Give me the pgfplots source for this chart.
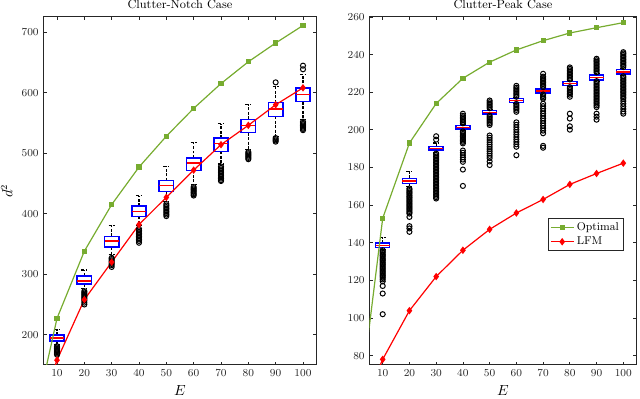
\documentclass[border=0pt]{standalone}
\usepackage{pgfplots}
\pgfplotsset{compat=1.18}
\usepgfplotslibrary{statistics}
\definecolor{mgreen}{rgb}{0.466,0.674,0.188}
\definecolor{axgray}{rgb}{0.15,0.15,0.15}

\pgfplotsset{
  panel/.style={
    scale only axis, height=261pt,
    xmin=5, xmax=105, xtick={10,20,...,100},
    tick align=inside, major tick length=2.6pt,
    axis line style={draw=axgray, line width=0.75pt},
    every tick/.style={axgray, line width=0.6pt},
    tick label style={font=\fontsize{8.5}{10}\selectfont, color=axgray},
    title style={font=\fontsize{9}{11}\selectfont, anchor=base, yshift=0.5pt},
    xlabel={$E$}, label style={font=\fontsize{10.5}{12}\selectfont},
    boxplot/draw direction=y,
  },
  bx/.style={
    mark=o, mark size=1.9pt, mark options={black, solid, line width=0.75pt},
    boxplot/box extend=5.2, boxplot/whisker extend=2.2,
    boxplot/every box/.style={draw=blue, line width=1.1pt},
    boxplot/every median/.style={draw=red, line width=1pt},
    boxplot/every whisker/.style={draw=black, line width=0.9pt, dash pattern=on 2.2pt off 1.2pt},
    forget plot,
  },
  opt/.style={mgreen, line width=0.9pt, mark=square*, mark size=1.5pt, mark options={solid, fill=mgreen}},
  lfm/.style={red, line width=0.9pt, mark=diamond*, mark size=2.1pt, mark options={solid, fill=red}},
}

\begin{document}
\begin{tikzpicture}
\path[use as bounding box] (-32.5pt,-25.5pt) rectangle (447.5pt,273.75pt);

% ---- left panel ----
\begin{axis}[panel, width=205pt,
  ymin=150, ymax=725, ytick={200,300,...,700},
  ylabel={$d^2$}, title={Clutter-Notch Case}]
\addplot[bx, boxplot prepared={draw position=10, lower whisker=184, lower quartile=189.6, median=194.5, upper quartile=199.5, upper whisker=209}]
  table[row sep=\\, y index=0] {y\\ 181\\ 179\\ 177\\ 175\\ 173\\ 171\\ 169\\ 167\\};
\addplot[bx, boxplot prepared={draw position=20, lower whisker=276, lower quartile=283.8, median=289, upper quartile=297, upper whisker=307}]
  table[row sep=\\, y index=0] {y\\ 272\\ 270\\ 268\\ 266\\ 264\\ 262\\ 260\\ 258\\ 256\\ 253\\ 250\\};
\addplot[bx, boxplot prepared={draw position=30, lower whisker=333, lower quartile=345, median=355, upper quartile=362.5, upper whisker=381}]
  table[row sep=\\, y index=0] {y\\ 327\\ 325\\ 323\\ 321\\ 319\\ 317\\ 315\\ 312\\};
\addplot[bx, boxplot prepared={draw position=40, lower whisker=380, lower quartile=395.5, median=404, upper quartile=412.5, upper whisker=430}]
  table[row sep=\\, y index=0] {y\\ 375\\ 372.5\\ 370\\ 367.5\\ 365\\ 362.5\\ 360\\ 357.5\\ 355\\ 352\\};
\addplot[bx, boxplot prepared={draw position=50, lower whisker=420, lower quartile=437, median=446.5, upper quartile=454.5, upper whisker=478}]
  table[row sep=\\, y index=0] {y\\ 416\\ 413.5\\ 411\\ 408.5\\ 406\\ 403.5\\ 401\\ 398.5\\ 396\\};
\addplot[bx, boxplot prepared={draw position=60, lower whisker=448, lower quartile=471.5, median=484, upper quartile=492, upper whisker=518}]
  table[row sep=\\, y index=0] {y\\ 444\\ 442\\ 440\\ 438\\ 436\\ 434\\ 432\\ 430\\};
\addplot[bx, boxplot prepared={draw position=70, lower whisker=482, lower quartile=503, median=515.5, upper quartile=525, upper whisker=549}]
  table[row sep=\\, y index=0] {y\\ 478\\ 475.5\\ 473\\ 470.5\\ 468\\ 465.5\\ 463\\ 460.5\\ 458\\ 455.5\\ 454\\};
\addplot[bx, boxplot prepared={draw position=80, lower whisker=506, lower quartile=534, median=546, upper quartile=556, upper whisker=581}]
  table[row sep=\\, y index=0] {y\\ 502\\ 500\\ 498\\ 496\\ 494\\ 492\\ 490\\};
\addplot[bx, boxplot prepared={draw position=90, lower whisker=527, lower quartile=561, median=573, upper quartile=583.5, upper whisker=610}]
  table[row sep=\\, y index=0] {y\\ 525\\ 523\\ 521\\ 519\\ 617\\};
\addplot[bx, boxplot prepared={draw position=100, lower whisker=556, lower quartile=585, median=597, upper quartile=608, upper whisker=630}]
  table[row sep=\\, y index=0] {y\\ 552\\ 550\\ 548\\ 546\\ 544\\ 542\\ 540\\ 538\\ 638.6\\ 644.6\\};

\addplot[opt] coordinates {(4,105) (10,227) (20,338) (30,415) (40,477) (50,528) (60,574) (70,615) (80,651) (90,682) (100,711)};
\addplot[lfm] coordinates {(4,80) (10,158) (20,258) (30,320) (40,382) (50,427) (60,472) (70,514) (80,546) (90,580) (100,608)};
\end{axis}

% ---- right panel ----
\begin{axis}[panel, at={(244.5pt,0)}, width=200.5pt,
  ymin=75, ymax=260, ytick={80,100,...,260},
  title={Clutter-Peak Case},
  legend style={at={(0.95,0.421)}, anchor=north east, draw=axgray, line width=0.6pt,
    font=\fontsize{8.5}{10}\selectfont, inner sep=1pt, row sep=-1pt},
  legend cell align=left]
\addplot[bx, boxplot prepared={draw position=10, lower whisker=136.5, lower quartile=137.6, median=138.7, upper quartile=139.8, upper whisker=142.8}]
  table[row sep=\\, y index=0] {y\\ 136\\ 135.3\\ 134.6\\ 133.9\\ 133.2\\ 132.5\\ 131.8\\ 131.1\\ 130.4\\ 129.7\\ 129\\ 128.3\\ 127.6\\ 126.9\\ 126.2\\ 125.5\\ 124.8\\ 124.1\\ 123.4\\ 122.7\\ 122\\ 121.3\\ 120.5\\ 119.5\\ 117\\ 113\\ 102\\};
\addplot[bx, boxplot prepared={draw position=20, lower whisker=170, lower quartile=171.6, median=172.8, upper quartile=174.2, upper whisker=178}]
  table[row sep=\\, y index=0] {y\\ 168.8\\ 168.1\\ 167.4\\ 166.7\\ 166\\ 165.3\\ 164.6\\ 163.9\\ 163.2\\ 162.5\\ 161.8\\ 161.1\\ 160.4\\ 159.7\\ 159\\ 158.3\\ 157.6\\ 156.9\\ 156.2\\ 155.5\\ 153.7\\ 148.8\\ 147.6\\ 145.8\\};
\addplot[bx, boxplot prepared={draw position=30, lower whisker=188, lower quartile=189.2, median=190.2, upper quartile=191.2, upper whisker=193}]
  table[row sep=\\, y index=0] {y\\ 194.8\\ 196.6\\ 187.4\\ 186.6\\ 185.8\\ 185\\ 184.2\\ 183.4\\ 182.6\\ 181.8\\ 181\\ 180.2\\ 179.4\\ 178.6\\ 177.8\\ 177\\ 176.2\\ 175.4\\ 174.6\\ 173.8\\ 173\\ 172.2\\ 171.4\\ 170.6\\ 169.8\\ 169\\ 168.2\\ 167.4\\ 166.6\\ 165.8\\ 165\\ 164.2\\ 163.5\\};
\addplot[bx, boxplot prepared={draw position=40, lower whisker=199.8, lower quartile=200.5, median=201.3, upper quartile=202.2, upper whisker=203}]
  table[row sep=\\, y index=0] {y\\ 203.5\\ 204.3\\ 205.1\\ 205.9\\ 206.7\\ 207.5\\ 208.6\\ 199.2\\ 198.5\\ 197.8\\ 197.1\\ 196.4\\ 195.7\\ 195\\ 194.3\\ 193.6\\ 192.8\\ 189\\ 187.8\\ 186.6\\ 185.4\\ 184.2\\ 183\\ 178.9\\ 170.2\\};
\addplot[bx, boxplot prepared={draw position=50, lower whisker=208, lower quartile=208.5, median=209.4, upper quartile=210.4, upper whisker=211}]
  table[row sep=\\, y index=0] {y\\ 211.5\\ 212.3\\ 213.1\\ 213.9\\ 214.7\\ 215.6\\ 207.5\\ 206.7\\ 205.9\\ 205.1\\ 204.3\\ 203.5\\ 202.6\\ 197\\ 195.8\\ 194.6\\ 193.4\\ 192.2\\ 191\\ 189.8\\ 188.6\\ 187.4\\ 186.2\\ 185\\ 183.2\\ 181.3\\};
\addplot[bx, boxplot prepared={draw position=60, lower whisker=214, lower quartile=214.5, median=215.7, upper quartile=216.8, upper whisker=217}]
  table[row sep=\\, y index=0] {y\\ 217.6\\ 218.4\\ 219.2\\ 220\\ 220.8\\ 221.6\\ 222.4\\ 223.4\\ 213.8\\ 213\\ 212.2\\ 211.4\\ 210.6\\ 209.6\\ 204\\ 202.7\\ 201.4\\ 200.1\\ 198.8\\ 197.5\\ 196.2\\ 194.9\\ 193.6\\ 192.3\\ 191\\ 186.5\\};
\addplot[bx, boxplot prepared={draw position=70, lower whisker=219, lower quartile=219.5, median=220.6, upper quartile=221.6, upper whisker=222}]
  table[row sep=\\, y index=0] {y\\ 222.7\\ 223.5\\ 224.3\\ 225.1\\ 225.9\\ 226.7\\ 227.5\\ 228.3\\ 229.8\\ 218.8\\ 218\\ 217.2\\ 216.5\\ 213.9\\ 212.6\\ 211.3\\ 210\\ 208.7\\ 207.4\\ 206.1\\ 204.8\\ 203.5\\ 202.2\\ 200.9\\ 199.6\\ 198.2\\ 191.5\\ 190.5\\};
\addplot[bx, boxplot prepared={draw position=80, lower whisker=223, lower quartile=223.5, median=224.6, upper quartile=225.8, upper whisker=226.2}]
  table[row sep=\\, y index=0] {y\\ 226.8\\ 227.6\\ 228.4\\ 229.2\\ 230\\ 230.8\\ 231.6\\ 232.4\\ 233.2\\ 222.7\\ 221.9\\ 221.1\\ 220.3\\ 219.5\\ 218.7\\ 217.6\\ 208.6\\ 206\\ 201.9\\ 200.1\\};
\addplot[bx, boxplot prepared={draw position=90, lower whisker=226, lower quartile=226.6, median=227.8, upper quartile=229.2, upper whisker=230}]
  table[row sep=\\, y index=0] {y\\ 230.6\\ 231.4\\ 232.2\\ 233\\ 233.8\\ 234.6\\ 235.4\\ 236.2\\ 237\\ 237.8\\ 225.9\\ 225.1\\ 224.3\\ 223.5\\ 222.7\\ 221.9\\ 221.1\\ 220.3\\ 219.5\\ 218.7\\ 217.9\\ 217.1\\ 216.3\\ 215.5\\ 214.7\\ 213.9\\ 213\\ 212.1\\ 208.6\\ 207\\ 205.4\\};
\addplot[bx, boxplot prepared={draw position=100, lower whisker=229, lower quartile=229.6, median=230.8, upper quartile=232, upper whisker=232.8}]
  table[row sep=\\, y index=0] {y\\ 233.4\\ 234.2\\ 235\\ 235.8\\ 236.6\\ 237.4\\ 238.2\\ 239\\ 239.8\\ 240.6\\ 241.3\\ 228.5\\ 227.7\\ 226.9\\ 226.1\\ 225.3\\ 224.5\\ 223.7\\ 222.9\\ 222.1\\ 221.3\\ 220.5\\ 219.7\\ 218.9\\ 218.1\\ 217.3\\ 216.5\\ 215.3\\ 213.9\\ 212.5\\ 211.1\\ 209.7\\ 208.6\\};

\addplot[opt] coordinates {(4,84) (10,153) (20,193) (30,214) (40,227.4) (50,236) (60,242.5) (70,247.4) (80,251.5) (90,254.3) (100,257)};
\addlegendentry{Optimal}
\addplot[lfm] coordinates {(4,58) (10,78) (20,103.9) (30,122) (40,136) (50,147.1) (60,155.8) (70,163) (80,171) (90,176.8) (100,182.3)};
\addlegendentry{LFM}
\end{axis}
\end{tikzpicture}
\end{document}
